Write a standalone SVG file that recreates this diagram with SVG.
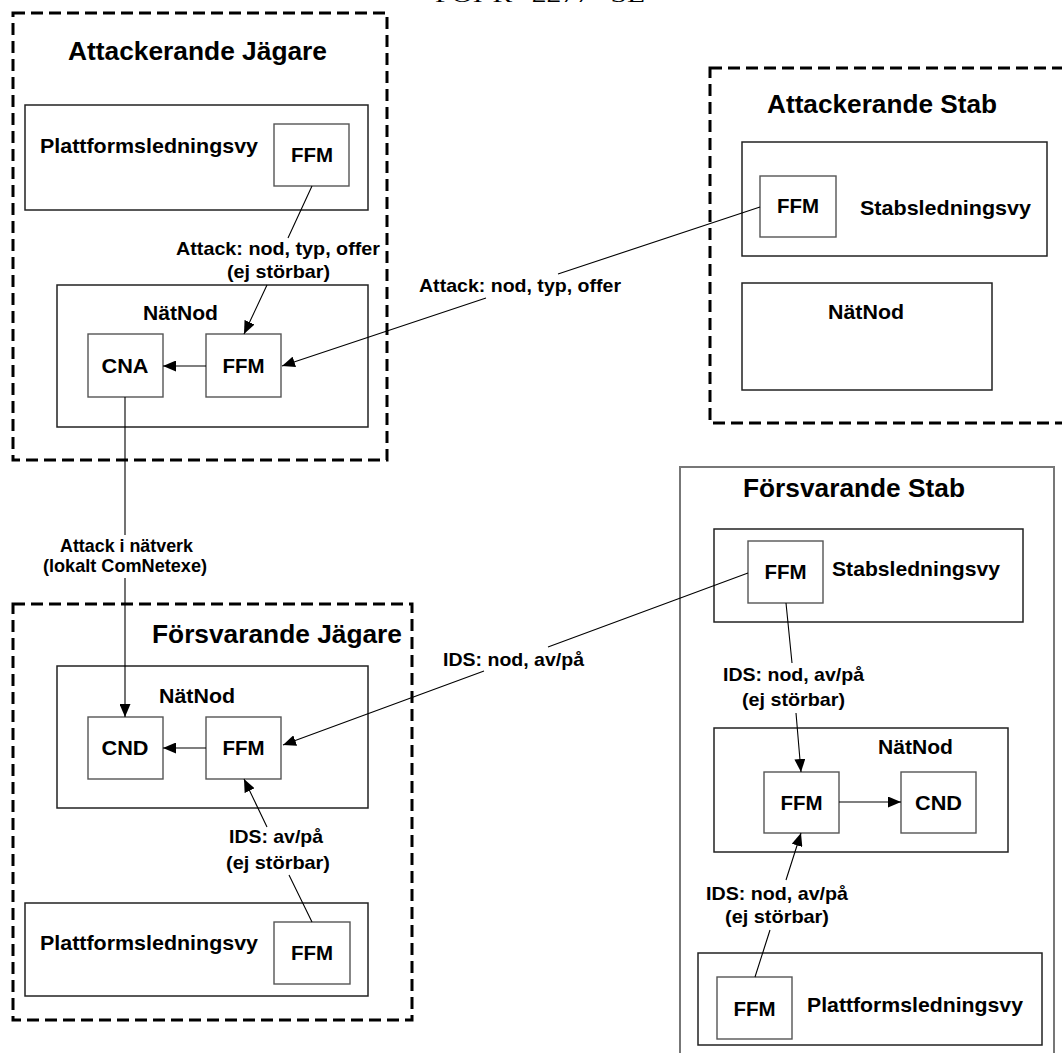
<svg xmlns="http://www.w3.org/2000/svg" width="1062" height="1053" viewBox="0 0 1062 1053">
<style>
text{font-family:"Liberation Sans",Arial,sans-serif;font-weight:bold;fill:#000}
.title{font-size:26px}
.lbl{font-size:21px}
.box{font-size:21px}
.el{font-size:19px}
.hdr{font-family:"Liberation Serif","Times New Roman",serif;font-weight:normal;font-size:22px}
.dash{fill:none;stroke:#000;stroke-width:3;stroke-dasharray:12 6}
.cont{fill:#fff;stroke:#222;stroke-width:1.5}
.inner{fill:#fff;stroke:#555;stroke-width:1.4}
.solid{fill:none;stroke:#777;stroke-width:2}
.conn path{fill:none;stroke:#000;stroke-width:1.1}
</style>
<defs>
<marker id="arr" markerUnits="userSpaceOnUse" markerWidth="13" markerHeight="11" refX="13" refY="5.5" orient="auto">
<path d="M0,0 L13,5.5 L0,11 z" fill="#000"/>
</marker>
</defs>
<rect width="1062" height="1053" fill="#fff"/>
<text class="hdr" x="540" y="2" text-anchor="middle" textLength="210" lengthAdjust="spacingAndGlyphs">FOI-R--2277--SE</text>

<g id="attackerande-jagare">
<rect class="dash" x="13" y="13" width="374" height="447"/>
<text class="title" x="68" y="60" textLength="259" lengthAdjust="spacingAndGlyphs">Attackerande Jägare</text>
</g>
<g id="aj-plattform">
<rect class="cont" x="25" y="105" width="343" height="105"/>
<text class="lbl" x="40" y="153" textLength="218" lengthAdjust="spacingAndGlyphs">Plattformsledningsvy</text>
</g>
<g id="aj-plattform-ffm">
<rect class="inner" x="274" y="124" width="75" height="62"/>
<text class="box" x="312" y="162" text-anchor="middle" textLength="42" lengthAdjust="spacingAndGlyphs">FFM</text>
</g>
<g id="aj-natnod">
<rect class="cont" x="57" y="285" width="311" height="142"/>
<text class="lbl" x="180.5" y="320" text-anchor="middle" textLength="75" lengthAdjust="spacingAndGlyphs">NätNod</text>
</g>
<g id="aj-cna">
<rect class="inner" x="88" y="334" width="75" height="63"/>
<text class="lbl" x="125" y="373" text-anchor="middle" textLength="47" lengthAdjust="spacingAndGlyphs">CNA</text>
</g>
<g id="aj-ffm">
<rect class="inner" x="206" y="334" width="75" height="63"/>
<text class="lbl" x="243.5" y="373" text-anchor="middle" textLength="42" lengthAdjust="spacingAndGlyphs">FFM</text>
</g>

<g id="attackerande-stab">
<rect class="dash" x="710" y="68" width="370" height="355"/>
<text class="title" x="767" y="113" textLength="230" lengthAdjust="spacingAndGlyphs">Attackerande Stab</text>
</g>
<g id="as-stabsledning">
<rect class="cont" x="742" y="142" width="305" height="114"/>
<text class="lbl" x="860" y="215" textLength="171" lengthAdjust="spacingAndGlyphs">Stabsledningsvy</text>
</g>
<g id="as-ffm">
<rect class="inner" x="760" y="176" width="76" height="61"/>
<text class="box" x="798" y="213" text-anchor="middle" textLength="42" lengthAdjust="spacingAndGlyphs">FFM</text>
</g>
<g id="as-natnod">
<rect class="cont" x="742" y="283" width="250" height="107"/>
<text class="lbl" x="866" y="319" text-anchor="middle" textLength="76" lengthAdjust="spacingAndGlyphs">NätNod</text>
</g>

<g id="forsvarande-jagare">
<rect class="dash" x="13" y="604" width="399" height="416"/>
<text class="title" x="152" y="643" textLength="250" lengthAdjust="spacingAndGlyphs">Försvarande Jägare</text>
</g>
<g id="fj-natnod">
<rect class="cont" x="57" y="666" width="311" height="142"/>
<text class="lbl" x="197" y="703" text-anchor="middle" textLength="76" lengthAdjust="spacingAndGlyphs">NätNod</text>
</g>
<g id="fj-cnd">
<rect class="inner" x="88" y="717" width="75" height="62"/>
<text class="lbl" x="125" y="755" text-anchor="middle" textLength="47" lengthAdjust="spacingAndGlyphs">CND</text>
</g>
<g id="fj-ffm">
<rect class="inner" x="206" y="717" width="75" height="62"/>
<text class="lbl" x="243.5" y="755" text-anchor="middle" textLength="42" lengthAdjust="spacingAndGlyphs">FFM</text>
</g>
<g id="fj-plattform">
<rect class="cont" x="25" y="903" width="343" height="93"/>
<text class="lbl" x="40" y="950" textLength="218" lengthAdjust="spacingAndGlyphs">Plattformsledningsvy</text>
</g>
<g id="fj-plattform-ffm">
<rect class="inner" x="274" y="922" width="76" height="62"/>
<text class="box" x="312" y="960" text-anchor="middle" textLength="42" lengthAdjust="spacingAndGlyphs">FFM</text>
</g>

<g id="forsvarande-stab">
<rect class="solid" x="680" y="467" width="374" height="600"/>
<text class="title" x="743" y="497" textLength="222" lengthAdjust="spacingAndGlyphs">Försvarande Stab</text>
</g>
<g id="fs-stabsledning">
<rect class="cont" x="714" y="529" width="309" height="93"/>
<text class="lbl" x="832" y="576" textLength="168" lengthAdjust="spacingAndGlyphs">Stabsledningsvy</text>
</g>
<g id="fs-stab-ffm">
<rect class="inner" x="748" y="541" width="75" height="62"/>
<text class="box" x="785.5" y="579" text-anchor="middle" textLength="42" lengthAdjust="spacingAndGlyphs">FFM</text>
</g>
<g id="fs-natnod">
<rect class="cont" x="714" y="728" width="294" height="124"/>
<text class="lbl" x="915.5" y="754" text-anchor="middle" textLength="75" lengthAdjust="spacingAndGlyphs">NätNod</text>
</g>
<g id="fs-ffm">
<rect class="inner" x="764" y="772" width="75" height="61"/>
<text class="lbl" x="801.5" y="810" text-anchor="middle" textLength="42" lengthAdjust="spacingAndGlyphs">FFM</text>
</g>
<g id="fs-cnd">
<rect class="inner" x="901" y="772" width="75" height="61"/>
<text class="lbl" x="938.5" y="810" text-anchor="middle" textLength="47" lengthAdjust="spacingAndGlyphs">CND</text>
</g>
<g id="fs-plattform">
<rect class="cont" x="698" y="953" width="344" height="92"/>
<text class="lbl" x="807" y="1012" textLength="216" lengthAdjust="spacingAndGlyphs">Plattformsledningsvy</text>
</g>
<g id="fs-plattform-ffm">
<rect class="inner" x="717" y="977" width="75" height="62"/>
<text class="box" x="754.5" y="1016" text-anchor="middle" textLength="42" lengthAdjust="spacingAndGlyphs">FFM</text>
</g>

<g id="connectors" class="conn">
<path d="M312,186 L288,238 M267,285 L244,334" marker-end="url(#arr)"/>
<path d="M760,207 L558,274 M486,298 L282,366" marker-end="url(#arr)"/>
<path d="M206,366 L163,366" marker-end="url(#arr)"/>
<path d="M125,397 L125,535 M125,578 L125,717" marker-end="url(#arr)"/>
<path d="M748,573 L548,647 M484,671 L283,745" marker-end="url(#arr)"/>
<path d="M206,748 L163,748" marker-end="url(#arr)"/>
<path d="M312,922 L289,875 M267,827 L244,779" marker-end="url(#arr)"/>
<path d="M786,603 L792,663 M796,713 L801,772" marker-end="url(#arr)"/>
<path d="M839,802 L901,802" marker-end="url(#arr)"/>
<path d="M755,977 L770,930 M786,880 L801,833" marker-end="url(#arr)"/>
</g>

<g id="connector-labels">
<text class="el" x="278" y="255" text-anchor="middle" textLength="204" lengthAdjust="spacingAndGlyphs">Attack: nod, typ, offer</text>
<text class="el" x="278.5" y="278" text-anchor="middle" textLength="103" lengthAdjust="spacingAndGlyphs">(ej störbar)</text>
<text class="el" x="520" y="292" text-anchor="middle" textLength="202" lengthAdjust="spacingAndGlyphs">Attack: nod, typ, offer</text>
<text class="el" x="126.5" y="552" text-anchor="middle" textLength="133" lengthAdjust="spacingAndGlyphs">Attack i nätverk</text>
<text class="el" x="125" y="572" text-anchor="middle" textLength="164" lengthAdjust="spacingAndGlyphs">(lokalt ComNetexe)</text>
<text class="el" x="513.5" y="666" text-anchor="middle" textLength="141" lengthAdjust="spacingAndGlyphs">IDS: nod, av/på</text>
<text class="el" x="793.5" y="681" text-anchor="middle" textLength="141" lengthAdjust="spacingAndGlyphs">IDS: nod, av/på</text>
<text class="el" x="793.5" y="706" text-anchor="middle" textLength="103" lengthAdjust="spacingAndGlyphs">(ej störbar)</text>
<text class="el" x="777" y="900" text-anchor="middle" textLength="142" lengthAdjust="spacingAndGlyphs">IDS: nod, av/på</text>
<text class="el" x="777" y="923" text-anchor="middle" textLength="104" lengthAdjust="spacingAndGlyphs">(ej störbar)</text>
<text class="el" x="276" y="843" text-anchor="middle" textLength="94" lengthAdjust="spacingAndGlyphs">IDS: av/på</text>
<text class="el" x="278" y="869" text-anchor="middle" textLength="104" lengthAdjust="spacingAndGlyphs">(ej störbar)</text>
</g>
</svg>
